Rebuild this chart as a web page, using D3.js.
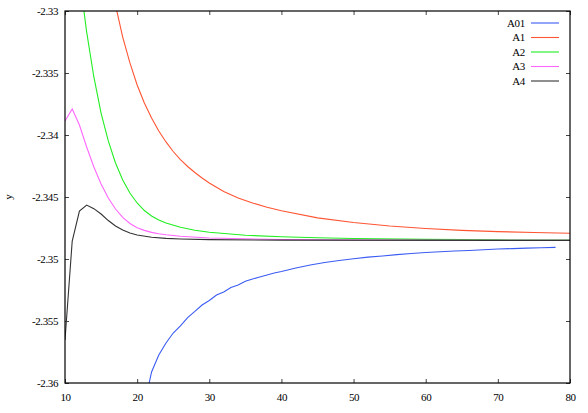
<!DOCTYPE html>
<html>
<head>
<meta charset="utf-8">
<script src="https://cdn.jsdelivr.net/npm/d3@7"></script>
<style>
    body { margin: 0; background: #fff; }
    #wrapper text { font-family: "Liberation Serif", "DejaVu Serif", serif; }
</style>
</head>
<body>
<div id="wrapper"></div>
<script>

// x ticks / y ticks
const xTicks = [10, 20, 30, 40, 50, 60, 70, 80]
const yTicks = [-2.33, -2.335, -2.34, -2.345, -2.35, -2.355, -2.36]

// series names and colours
const seriesNames = ["A01", "A1", "A2", "A3", "A4"]
const seriesColors = ["#3b5cf2", "#ff5533", "#22ee22", "#ff66ff", "#333333"]

// A01 (blue)
const a01X = [21, 22, 23, 24, 25, 26, 27, 28, 29, 30, 31, 32, 33, 34, 35, 36, 37, 38, 39, 40,
    42, 44, 46, 48, 50, 52, 54, 56, 58, 60, 62, 64, 66, 68, 70, 72, 74, 76, 78]
const a01Y = [-2.36177, -2.35911, -2.35774, -2.35677, -2.35597, -2.35540, -2.35472, -2.35423,
    -2.35371, -2.35335, -2.35290, -2.35266, -2.35230, -2.35210, -2.35180, -2.35161, -2.35145,
    -2.35129, -2.35113, -2.35101, -2.35073, -2.35048, -2.35028, -2.35012, -2.34998, -2.34985,
    -2.34976, -2.34965, -2.34956, -2.34948, -2.34942, -2.34935, -2.34931, -2.34925, -2.34919,
    -2.34916, -2.34912, -2.34909, -2.34906]

// A1 (red)
const a1X = [16, 17, 18, 19, 20, 21, 22, 23, 24, 25, 26, 27, 28, 29, 30, 32, 34, 36, 38, 40,
    45, 50, 55, 60, 65, 70, 75, 80]
const a1Y = [-2.32645, -2.32952, -2.33210, -2.33419, -2.33597, -2.33742, -2.33863, -2.33968,
    -2.34056, -2.34133, -2.34198, -2.34254, -2.34302, -2.34347, -2.34387, -2.34456, -2.34508,
    -2.34548, -2.34582, -2.34611, -2.34668, -2.34706, -2.34734, -2.34754, -2.34769, -2.34779,
    -2.34786, -2.34792]

// A2 (green)
const a2X = [12, 13, 14, 15, 16, 17, 18, 19, 20, 21, 22, 23, 24, 26, 28, 30, 35, 40, 45, 50,
    60, 70, 80]
const a2Y = [-2.32718, -2.33169, -2.33532, -2.33823, -2.34048, -2.34226, -2.34363, -2.34468,
    -2.34548, -2.34609, -2.34653, -2.34685, -2.34710, -2.34744, -2.34768, -2.34784, -2.34808,
    -2.34821, -2.34829, -2.34835, -2.34842, -2.34846, -2.34848]

// A3 (magenta)
const a3X = [10, 11, 12, 13, 14, 15, 16, 17, 18, 19, 20, 21, 22, 23, 24, 26, 30, 40, 50, 80]
const a3Y = [-2.33887, -2.33790, -2.33919, -2.34097, -2.34258, -2.34395, -2.34508, -2.34597,
    -2.34665, -2.34714, -2.34748, -2.34769, -2.34785, -2.34796, -2.34805, -2.34817, -2.34831,
    -2.34843, -2.34847, -2.34849]

// A4 (black)
const a4X = [10, 11, 12, 13, 14, 15, 16, 17, 18, 19, 20, 22, 24, 26, 30, 40, 80]
const a4Y = [-2.35653, -2.34855, -2.34613, -2.34565, -2.34594, -2.34637, -2.34690, -2.34734,
    -2.34766, -2.34790, -2.34806, -2.34825, -2.34834, -2.34839, -2.34844, -2.34848, -2.34850]

function drawChart() {

    /* 1. Access data */
    const seriesXs = [a01X, a1X, a2X, a3X, a4X]
    const seriesYs = [a01Y, a1Y, a2Y, a3Y, a4Y]
    const dataset = seriesNames.map((name, i) => ({
        name: name,
        color: seriesColors[i],
        values: seriesXs[i].map((x, j) => ({ x: x, y: seriesYs[i][j] })),
    }))

    const xAccessor = d => d.x
    const yAccessor = d => d.y

    /* 2. Create chart dimensions */
    let dimensions = {
        width: 588,
        height: 413,
        margin: {
            top: 11,
            right: 18,
            bottom: 30,
            left: 65,
        },
    }
    dimensions.boundedWidth = dimensions.width
        - dimensions.margin.left
        - dimensions.margin.right
    dimensions.boundedHeight = dimensions.height
        - dimensions.margin.top
        - dimensions.margin.bottom

    /* 3. Draw canvas */
    const wrapper = d3.select("#wrapper")
        .append("svg")
        .attr("width", dimensions.width)
        .attr("height", dimensions.height)

    const bounds = wrapper.append("g")
        .attr("transform", `translate(${dimensions.margin.left}, ${dimensions.margin.top})`)

    bounds.append("clipPath")
        .attr("id", "plot-clip")
        .append("rect")
        .attr("width", dimensions.boundedWidth)
        .attr("height", dimensions.boundedHeight)

    /* 4. Create scales */
    const xScale = d3.scaleLinear()
        .domain([10, 80])
        .range([0, dimensions.boundedWidth])

    const yScale = d3.scaleLinear()
        .domain([-2.36, -2.33])
        .range([dimensions.boundedHeight, 0])

    /* 5. Draw data */
    const lineGenerator = d3.line()
        .x(d => xScale(xAccessor(d)))
        .y(d => yScale(yAccessor(d)))

    bounds.append("g")
        .attr("clip-path", "url(#plot-clip)")
        .selectAll("path")
        .data(dataset)
        .enter().append("path")
        .attr("d", d => lineGenerator(d.values))
        .attr("fill", "none")
        .attr("stroke", d => d.color)
        .attr("stroke-width", 1.1)

    /* 6. Draw peripherals */
    const fmt = d => String(+d.toFixed(3))

    const xAxis = bounds.append("g")
        .attr("transform", `translate(0, ${dimensions.boundedHeight})`)
        .call(d3.axisBottom(xScale)
            .tickValues(xTicks)
            .tickSizeInner(-4)
            .tickSizeOuter(0)
            .tickPadding(10)
            .tickFormat(fmt))

    const xAxisTop = bounds.append("g")
        .call(d3.axisTop(xScale)
            .tickValues(xTicks)
            .tickSizeInner(-4)
            .tickSizeOuter(0)
            .tickFormat(""))

    const yAxis = bounds.append("g")
        .call(d3.axisLeft(yScale)
            .tickValues(yTicks)
            .tickSizeInner(-4)
            .tickSizeOuter(0)
            .tickPadding(7)
            .tickFormat(fmt))

    const yAxisRight = bounds.append("g")
        .attr("transform", `translate(${dimensions.boundedWidth}, 0)`)
        .call(d3.axisRight(yScale)
            .tickValues(yTicks)
            .tickSizeInner(-4)
            .tickSizeOuter(0)
            .tickFormat(""))

    bounds.selectAll(".domain").remove()
    bounds.selectAll(".tick line").attr("stroke", "#444")
    bounds.selectAll(".tick text")
        .attr("fill", "#000")
        .style("font-size", "11px")
        .style("letter-spacing", "-0.4px")

    bounds.append("rect")
        .attr("width", dimensions.boundedWidth)
        .attr("height", dimensions.boundedHeight)
        .attr("fill", "none")
        .attr("stroke", "#000")
        .attr("stroke-width", 1.2)

    wrapper.append("text")
        .attr("transform", "translate(12, 197) rotate(-90)")
        .attr("text-anchor", "middle")
        .style("font-size", "11px")
        .text("y")

    // legend
    const legend = wrapper.append("g")
        .attr("transform", "translate(525, 23)")

    const legendRows = legend.selectAll("g")
        .data(dataset)
        .enter().append("g")
        .attr("transform", (d, i) => `translate(0, ${i * 14.5})`)

    legendRows.append("text")
        .attr("text-anchor", "end")
        .attr("dy", "0.35em")
        .style("font-size", "11px")
        .style("letter-spacing", "-0.3px")
        .text(d => d.name)

    legendRows.append("line")
        .attr("x1", 6)
        .attr("x2", 34)
        .attr("stroke", d => d.color)
        .attr("stroke-width", 1.1)
}
drawChart()

</script>
</body>
</html>
